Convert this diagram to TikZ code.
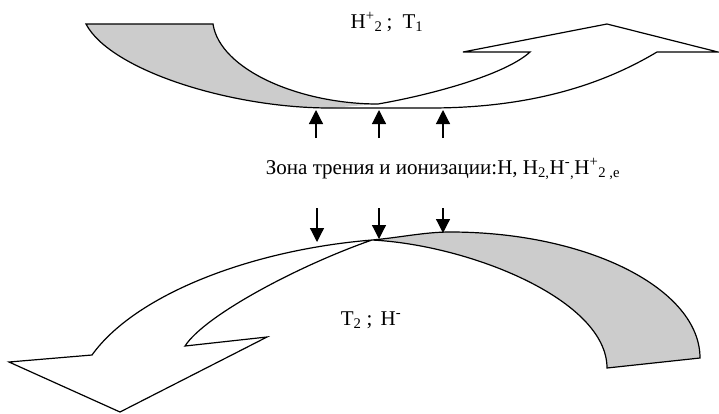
\documentclass[tikz,border=0pt]{standalone}
\usepackage{fontspec}
\setmainfont{Liberation Serif}
\usetikzlibrary{arrows.meta, positioning}
\definecolor{bandgray}{RGB}{204,204,204}
\tikzset{
    outline/.style={draw=black, line width=1.2pt},
    backside/.style={fill=bandgray},
    arr/.style={-{Triangle[length=14pt, width=14pt]}, line width=1.2pt},
    lbl/.style={font=\fontsize{21}{25}\selectfont, inner sep=0pt, anchor=base}
}

\begin{document}
\begin{tikzpicture}[x=1pt, y=-1pt]
  \useasboundingbox (0,0) rectangle (719,413);
  % upper band
  \fill[backside] (86,24) -- (213,24) .. controls (220,70) and (300,104) .. (378,104) -- (330,108) .. controls (230,108) and (110,70) .. (86,24) -- cycle;
  \draw[outline] (86,24) .. controls (110,70) and (230,108) .. (330,108) -- (430,108) .. controls (540,108) and (610,80) .. (657,52) -- (718,52) -- (607,24) -- (463,52) -- (530,52) .. controls (505,75) and (430,95) .. (378,104) .. controls (300,104) and (220,70) .. (213,24) -- cycle;
  % lower band
  \fill[backside] (372,240) .. controls (400,237.5) and (425,232) .. (450,232) .. controls (588,232) and (700,289) .. (700,358) -- (607,368) .. controls (607,300) and (470,245) .. (372,240) -- cycle;
  \draw[outline] (372,240) .. controls (400,237.5) and (425,232) .. (450,232) .. controls (588,232) and (700,289) .. (700,358) -- (607,368) .. controls (607,300) and (470,245) .. (372,240) .. controls (300,265) and (205,315) .. (185,346) -- (267,337) -- (120,412) -- (9,362) -- (92,355) .. controls (135,295) and (250,250) .. (372,240);

  % labels
  \node[lbl] (topL) at (387,28) {H\textsuperscript{+}\textsubscript{2}\hspace{4pt}; \hspace{5pt}T\textsubscript{1}};
  \node[lbl] (ionL) at (443,174) {Зона трения и ионизации:H, H\textsubscript{2,}H\textsuperscript{-}\textsubscript{,}H\textsuperscript{+}\textsubscript{2 ,e}};
  \node[lbl] (botL) at (371,325) {T\textsubscript{2}\hspace{5pt}; \hspace{3pt}H\textsuperscript{-}};

  % flows out of the zone
  \coordinate (up1) at (316,138);  \coordinate (up1e) at (316,110);
  \coordinate (up2) at (379,138);  \coordinate (up2e) at (379,110);
  \coordinate (up3) at (443,138);  \coordinate (up3e) at (443,110);
  \coordinate (dn1) at (317,208);  \coordinate (dn1e) at (317,242);
  \coordinate (dn2) at (379,208);  \coordinate (dn2e) at (379,239);
  \coordinate (dn3) at (443,208);  \coordinate (dn3e) at (443,233);
  \draw[arr] (up1) -- (up1e);
  \draw[arr] (up2) -- (up2e);
  \draw[arr] (up3) -- (up3e);
  \draw[arr] (dn1) -- (dn1e);
  \draw[arr] (dn2) -- (dn2e);
  \draw[arr] (dn3) -- (dn3e);
\end{tikzpicture}
\end{document}
